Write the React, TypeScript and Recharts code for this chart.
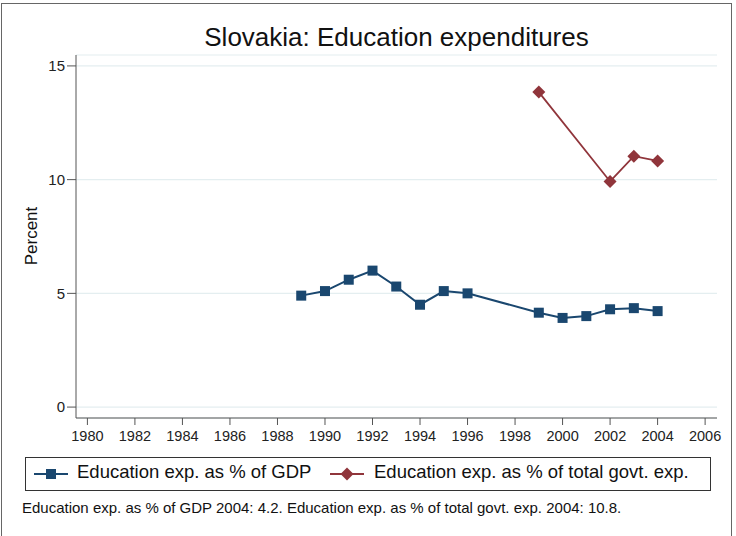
import React from "react";
import { CartesianGrid, Line, LineChart, XAxis, YAxis } from "recharts";

const gdpYears = [1989, 1990, 1991, 1992, 1993, 1994, 1995, 1996, 1999, 2000, 2001, 2002, 2003, 2004];
const gdpValues = [4.9, 5.1, 5.6, 6.0, 5.3, 4.5, 5.1, 5.0, 4.15, 3.92, 4.0, 4.3, 4.35, 4.22];
const govtYears = [1999, 2002, 2003, 2004];
const govtValues = [13.85, 9.92, 11.03, 10.82];
const xTicks = [1980, 1982, 1984, 1986, 1988, 1990, 1992, 1994, 1996, 1998, 2000, 2002, 2004, 2006];
const yTicks = [0, 5, 10, 15];

const gdpData = gdpYears.map((year, i) => ({ year, gdp: gdpValues[i] }));
const govtData = govtYears.map((year, i) => ({ year, govt: govtValues[i] }));

const blue = "#1a476f";
const red = "#90353b";
const axisColor = "#555";
const font = "'Liberation Sans', Arial, sans-serif";

const SquareDot = (props: any) => {
  const { cx, cy, index } = props;
  if (cx == null || cy == null) return <g key={`s${index}`} />;
  return <rect key={`s${index}`} x={cx - 5} y={cy - 5} width={10} height={10} fill={blue} />;
};

const DiamondDot = (props: any) => {
  const { cx, cy, index } = props;
  if (cx == null || cy == null) return <g key={`d${index}`} />;
  const r = 6.5;
  return (
    <polygon
      key={`d${index}`}
      points={`${cx},${cy - r} ${cx + r},${cy} ${cx},${cy + r} ${cx - r},${cy}`}
      fill={red}
    />
  );
};

// legend drawn by hand, Stata style box
function LegendBox() {
  return (
    <div
      style={{
        position: "absolute",
        left: 25,
        top: 457,
        width: 686,
        height: 34,
        border: "1px solid #333",
        boxSizing: "border-box",
        fontSize: 18.5,
        color: "#111",
      }}
    >
      <svg width={40} height={20} style={{ position: "absolute", left: 6, top: 6 }}>
        <line x1={2} y1={10} x2={36} y2={10} stroke={blue} strokeWidth={2} />
        <rect x={14} y={5} width={10} height={10} fill={blue} />
      </svg>
      <span style={{ position: "absolute", left: 51, top: 5, lineHeight: 1, whiteSpace: "nowrap" }}>
        Education exp. as % of GDP
      </span>
      <svg width={40} height={20} style={{ position: "absolute", left: 302, top: 6 }}>
        <line x1={2} y1={10} x2={36} y2={10} stroke={red} strokeWidth={1.8} />
        <polygon points="19,3.5 25.5,10 19,16.5 12.5,10" fill={red} />
      </svg>
      <span style={{ position: "absolute", left: 348, top: 5, lineHeight: 1, whiteSpace: "nowrap" }}>
        Education exp. as % of total govt. exp.
      </span>
    </div>
  );
}

export default function App() {
  return (
    <div
      style={{
        position: "absolute",
        left: 0,
        top: 0,
        width: 736,
        height: 536,
        background: "#fff",
        overflow: "hidden",
        fontFamily: font,
      }}
    >
      <div
        style={{
          position: "absolute",
          left: 1,
          top: 3,
          width: 731,
          height: 560,
          border: "1px solid #666",
          boxSizing: "border-box",
        }}
      />
      <div
        style={{
          position: "absolute",
          left: 76,
          width: 641,
          top: 24,
          lineHeight: 1,
          textAlign: "center",
          fontSize: 26,
          color: "#111",
        }}
      >
        Slovakia: Education expenditures
      </div>
      <div
        style={{
          position: "absolute",
          left: 31,
          top: 236,
          transform: "translate(-50%, -50%) rotate(-90deg)",
          fontSize: 17,
          lineHeight: 1,
          color: "#111",
          whiteSpace: "nowrap",
        }}
      >
        Percent
      </div>
      <div style={{ position: "absolute", left: 0, top: 0 }}>
        <LineChart width={736} height={450} margin={{ top: 55, right: 19, left: 0, bottom: 0 }}>
          <CartesianGrid horizontal vertical={false} stroke="#e4eef0" strokeWidth={1.2} />
          <XAxis
            dataKey="year"
            type="number"
            domain={[1979.52, 2006.5]}
            allowDataOverflow
            ticks={xTicks}
            interval={0}
            height={32}
            stroke={axisColor}
            tickSize={7}
            tickMargin={6}
            tick={{ fill: "#222", fontSize: 14.5, fontFamily: font }}
          />
          <YAxis
            type="number"
            domain={[-0.48, 15.48]}
            allowDataOverflow
            ticks={yTicks}
            interval={0}
            width={76}
            stroke={axisColor}
            tickSize={9}
            tick={{ fill: "#222", fontSize: 15, fontFamily: font }}
          />
          <Line
            data={gdpData}
            dataKey="gdp"
            type="linear"
            stroke={blue}
            strokeWidth={2}
            dot={SquareDot}
            activeDot={false}
            isAnimationActive={false}
          />
          <Line
            data={govtData}
            dataKey="govt"
            type="linear"
            stroke={red}
            strokeWidth={1.8}
            dot={DiamondDot}
            activeDot={false}
            isAnimationActive={false}
          />
        </LineChart>
      </div>
      <LegendBox />
      <div
        style={{
          position: "absolute",
          left: 22,
          top: 500,
          lineHeight: 1,
          fontSize: 15,
          color: "#111",
          whiteSpace: "nowrap",
        }}
      >
        Education exp. as % of GDP 2004: 4.2. Education exp. as % of total govt. exp. 2004: 10.8.
      </div>
    </div>
  );
}
